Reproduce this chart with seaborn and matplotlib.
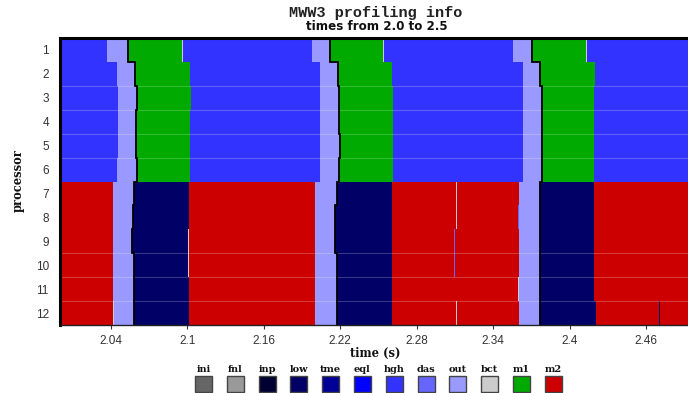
import numpy as np
import pandas as pd
import matplotlib
matplotlib.use("Agg")
import matplotlib.pyplot as plt
from matplotlib.patches import Rectangle
import seaborn as sns

# ---- data -------------------------------------------------------------
processors = list(range(1, 13))
categories = ["ini", "fnl", "inp", "low", "tme", "eql", "hgh", "das",
              "out", "bct", "m1", "m2"]
cat_colors = ["#666666", "#999999", "#000033", "#000066", "#000099",
              "#0000FF", "#3333FF", "#6666FF", "#9999FF", "#CCCCCC",
              "#00AA00", "#CC0000"]
t_start, t_end = 2.0, 2.5
xticks = [2.04, 2.1, 2.16, 2.22, 2.28, 2.34, 2.4, 2.46]
xtick_labels = ["2.04", "2.1", "2.16", "2.22", "2.28", "2.34", "2.4", "2.46"]

# cycle 1: start of output, start of model phase, end of model phase
out_start_1 = [2.0369, 2.0448, 2.0456, 2.0456, 2.0456, 2.0448,
               2.0416, 2.0416, 2.0416, 2.0416, 2.0416, 2.0424]
phase_start_1 = [2.0534, 2.0589, 2.0601, 2.0593, 2.0597, 2.0605,
                 2.0577, 2.0573, 2.0566, 2.0577, 2.0577, 2.0577]
phase_end_1 = [2.0958, 2.1021, 2.1029, 2.1021, 2.1021, 2.1021,
               2.1013, 2.1009, 2.1009, 2.1013, 2.1013, 2.1013]
# cycle 2
out_start_2 = [2.1980, 2.2042, 2.2039, 2.2039, 2.2039, 2.2039,
               2.2003, 2.2003, 2.2003, 2.2003, 2.2003, 2.2003]
phase_start_2 = [2.2121, 2.2184, 2.2192, 2.2192, 2.2200, 2.2192,
                 2.2176, 2.2160, 2.2160, 2.2176, 2.2176, 2.2176]
phase_end_2 = [2.2537, 2.2608, 2.2616, 2.2616, 2.2616, 2.2616,
               2.2608, 2.2608, 2.2608, 2.2608, 2.2608, 2.2608]
# cycle 3
out_start_3 = [2.3559, 2.3637, 2.3637, 2.3637, 2.3637, 2.3637,
               2.3606, 2.3606, 2.3606, 2.3606, 2.3606, 2.3606]
phase_start_3 = [2.3708, 2.3771, 2.3786, 2.3786, 2.3786, 2.3786,
                 2.3771, 2.3771, 2.3771, 2.3771, 2.3771, 2.3771]
phase_end_3 = [2.4132, 2.4203, 2.4195, 2.4195, 2.4195, 2.4195,
               2.4195, 2.4195, 2.4195, 2.4195, 2.4195, 2.4211]

# short events: (processor, start, duration, category)
short_events = [
    (1, 2.0958, 0.0007, "bct"), (1, 2.2537, 0.0007, "bct"),
    (1, 2.4132, 0.0007, "bct"),
    (9, 2.1004, 0.0005, "bct"), (10, 2.1004, 0.0005, "bct"),
    (12, 2.0418, 0.0005, "bct"),
    (7, 2.3111, 0.0006, "bct"), (8, 2.3111, 0.0006, "bct"),
    (12, 2.3111, 0.0006, "bct"),
    (9, 2.3093, 0.0006, "das"), (10, 2.3093, 0.0006, "das"),
    (8, 2.3594, 0.0007, "das"), (11, 2.3598, 0.0006, "bct"),
    (12, 2.4698, 0.0012, "low"),
]

# ---- build segment table ---------------------------------------------
palette = dict(zip(categories, cat_colors))
rows = []
cycles = [(out_start_1, phase_start_1, phase_end_1),
          (out_start_2, phase_start_2, phase_end_2),
          (out_start_3, phase_start_3, phase_end_3)]
for i, p in enumerate(processors):
    base = "hgh" if p <= 6 else "m2"
    phase = "m1" if p <= 6 else "low"
    t = t_start
    for o, s, e in cycles:
        rows.append((p, t, o[i], base))
        rows.append((p, o[i], s[i], "out"))
        rows.append((p, s[i], e[i], phase))
        t = e[i]
    rows.append((p, t, t_end, base))
for p, s, d, c in short_events:
    rows.append((p, s, s + d, c))
segments = pd.DataFrame(rows, columns=["proc", "start", "end", "kind"])

# ---- figure -----------------------------------------------------------
sns.set_theme(style="white")
plt.rcParams["font.family"] = ["Liberation Sans", "DejaVu Sans"]

W, H = 688, 393
fig = plt.figure(figsize=(W / 100, H / 100), dpi=100)
ax = fig.add_axes([60 / W, 1 - 325 / H, (697 - 60) / W, (325 - 38) / H])

ax.barh(segments["proc"], segments["end"] - segments["start"],
        left=segments["start"], height=1.0,
        color=[palette[k] for k in segments["kind"]], linewidth=0)

# faint separators between processor rows
ax.hlines([2.5, 3.5, 4.5, 5.5, 9.5, 10.5, 11.5], t_start, t_end,
          colors="white", alpha=0.22, linewidth=0.8)

# synchronisation front at the start of each model phase
for _, s, _ in cycles:
    xs = np.repeat(s, 2)
    ys = np.ravel([[p - 0.5, p + 0.5] for p in processors])
    ax.plot(xs, ys, color="black", linewidth=1.3, solid_joinstyle="miter")

ax.set_xlim(t_start, t_end)
ax.set_ylim(12.5, 0.5)
ax.set_yticks(processors)
ax.set_yticklabels([str(p) for p in processors])
ax.set_xticks(xticks)
ax.set_xticklabels(xtick_labels)
ax.tick_params(axis="x", direction="out", length=3, width=0.8, color="#333333",
               labelsize=8.5, labelcolor="#333333", pad=4, bottom=True)
ax.tick_params(axis="y", length=0, labelsize=8.5, labelcolor="#333333", pad=8)
for side in ["left", "top", "right"]:
    ax.spines[side].set_color("black")
    ax.spines[side].set_linewidth(2.2)
ax.spines["bottom"].set_color("#222222")
ax.spines["bottom"].set_linewidth(1.0)
ax.set_xlabel("")
ax.set_ylabel("")

# titles and axis labels
fig.text(376 / W, 1 - 13 / H, "MWW3 profiling info", ha="center", va="center",
         family=["Liberation Mono"], weight="bold", size=11, color="#222222")
fig.text(377 / W, 1 - 27 / H, "times from 2.0 to 2.5", ha="center",
         va="center", family=["DejaVu Sans"], weight="bold", size=8.6,
         color="#111111")
fig.text(375 / W, 1 - 353 / H, "time (s)", ha="center", va="center",
         family=["DejaVu Serif"], weight="bold", size=8.3, color="#111111")
fig.text(18 / W, 1 - 181 / H, "processor", ha="center", va="center",
         rotation=90, family=["DejaVu Serif"], weight="bold", size=8.3,
         color="#111111")

# legend: colour boxes with labels above
for i, (name, col) in enumerate(zip(categories, cat_colors)):
    cx = 203.5 + i * 31.8
    fig.add_artist(Rectangle(((cx - 8.5) / W, 1 - 392 / H), 17 / W, 16.5 / H,
                             transform=fig.transFigure, facecolor=col,
                             edgecolor="#444444", linewidth=1.0))
    fig.text(cx / W, 1 - 370 / H, name, ha="center", va="center",
             family=["DejaVu Serif"], weight="bold", size=7,
             color="#111111")

fig.savefig("out.png", dpi=100)
